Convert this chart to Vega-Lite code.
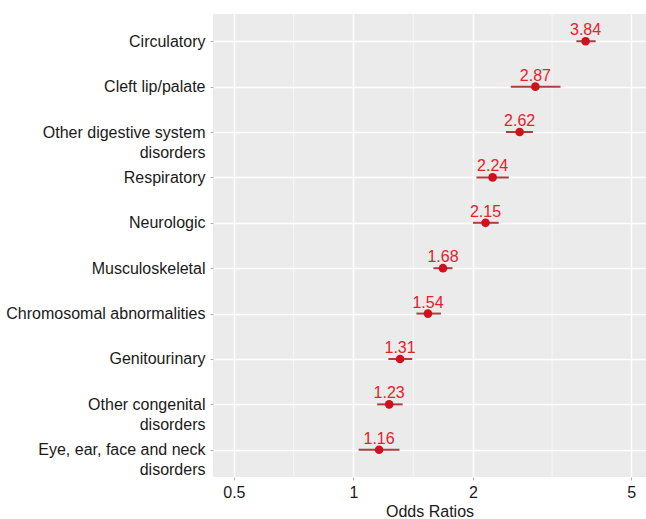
{
  "$schema": "https://vega.github.io/schema/vega-lite/v6.json",
  "width": 433,
  "height": 463,
  "autosize": "none",
  "padding": {"left": 213, "top": 14, "right": 0, "bottom": 42},
  "background": "white",
  "view": {"fill": "#EBEBEB", "stroke": null},
  "config": {"font": "Liberation Sans"},
  "datasets": {
    "or": [
      {"cat": "Circulatory", "or": 3.84, "lo": 3.64, "hi": 4.07},
      {"cat": "Cleft lip/palate", "or": 2.87, "lo": 2.49, "hi": 3.32},
      {"cat": "Other digestive system|disorders", "or": 2.62, "lo": 2.42, "hi": 2.83},
      {"cat": "Respiratory", "or": 2.24, "lo": 2.04, "hi": 2.46},
      {"cat": "Neurologic", "or": 2.15, "lo": 2.0, "hi": 2.32},
      {"cat": "Musculoskeletal", "or": 1.68, "lo": 1.59, "hi": 1.775},
      {"cat": "Chromosomal abnormalities", "or": 1.54, "lo": 1.44, "hi": 1.66},
      {"cat": "Genitourinary", "or": 1.31, "lo": 1.224, "hi": 1.406},
      {"cat": "Other congenital|disorders", "or": 1.23, "lo": 1.147, "hi": 1.33},
      {"cat": "Eye, ear, face and neck|disorders", "or": 1.16, "lo": 1.03, "hi": 1.306}
    ],
    "minor": [{"v": 0.7071}, {"v": 1.4142}, {"v": 3.1623}]
  },
  "layer": [
    {
      "data": {"name": "minor"},
      "mark": {"type": "rule", "color": "white", "strokeWidth": 0.6},
      "encoding": {
        "x": {"field": "v", "type": "quantitative", "scale": {"type": "log", "domain": [0.443, 5.45], "nice": false}}
      }
    },
    {
      "data": {"name": "or"},
      "mark": {"type": "rule", "color": "#A8403F", "strokeWidth": 2},
      "encoding": {
        "y": {
          "field": "cat", "type": "nominal", "sort": null,
          "scale": {"type": "point", "padding": 0.6},
          "axis": {
            "title": null,
            "labelExpr": "split(datum.label, '|')",
            "labelFontSize": 16,
            "labelColor": "#1a1a1a",
            "labelLineHeight": 20,
            "labelPadding": 5,
            "labelLimit": 300,
            "tickColor": "#b0b0b0",
            "tickSize": 3,
            "domain": false,
            "grid": true,
            "gridColor": "white",
            "gridWidth": 1.5
          }
        },
        "x": {
          "field": "lo", "type": "quantitative",
          "scale": {"type": "log", "domain": [0.443, 5.45], "nice": false},
          "axis": {
            "title": "Odds Ratios",
            "titleFontSize": 16,
            "titleFontWeight": "normal",
            "titleColor": "#1a1a1a",
            "titlePadding": 3,
            "values": [0.5, 1, 2, 5],
            "labelFontSize": 16,
            "labelColor": "#1a1a1a",
            "labelPadding": 4,
            "tickColor": "#b0b0b0",
            "tickSize": 3,
            "domain": false,
            "grid": true,
            "gridColor": "white",
            "gridWidth": 1.5
          }
        },
        "x2": {"field": "hi"}
      }
    },
    {
      "data": {"name": "or"},
      "mark": {"type": "circle", "color": "#D0101C", "opacity": 1, "size": 75},
      "encoding": {
        "y": {"field": "cat", "type": "nominal", "sort": null},
        "x": {"field": "or", "type": "quantitative"}
      }
    },
    {
      "data": {"name": "or"},
      "mark": {"type": "text", "color": "#E8202A", "fontSize": 16, "baseline": "alphabetic", "dy": -6},
      "encoding": {
        "y": {"field": "cat", "type": "nominal", "sort": null},
        "x": {"field": "or", "type": "quantitative"},
        "text": {"field": "or", "type": "quantitative", "format": ".2f"}
      }
    }
  ]
}
